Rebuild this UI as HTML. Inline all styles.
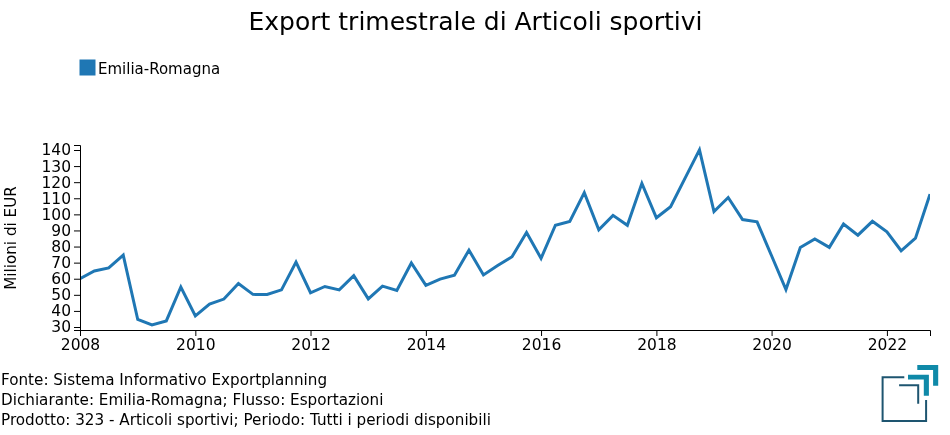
<!DOCTYPE html>
<html><head><meta charset="utf-8"><style>
html,body{margin:0;padding:0;background:#fff;}
svg{display:block;will-change:transform;font-family:"DejaVu Sans","Liberation Sans",sans-serif;}
.ax line,.ax path{stroke:#000;fill:none;stroke-width:1;shape-rendering:auto}
.ax text{font-size:15.5px;fill:#000}
</style></head><body>
<svg width="950" height="435" viewBox="0 0 950 435">
<text x="475.5" y="30" text-anchor="middle" font-size="25" fill="#000">Export trimestrale di Articoli sportivi</text>
<rect x="80" y="60" width="15" height="15" fill="#1f77b4" stroke="#1f77b4" stroke-width="1"/>
<text x="98" y="74" font-size="15" fill="#000">Emilia-Romagna</text>
<defs><clipPath id="c"><rect x="80" y="145" width="850" height="185"/></clipPath></defs>
<path d="M80.00,278.60L94.36,271.04L108.72,267.98L123.23,255.11L137.75,319.47L151.95,324.94L166.31,320.92L180.83,286.97L195.34,315.93L209.54,304.19L223.90,299.04L238.42,283.59L252.93,294.37L267.14,294.53L281.49,289.86L296.01,262.03L310.53,292.76L324.89,286.49L339.24,289.86L353.76,275.70L368.28,298.88L382.48,286.16L396.84,290.35L411.35,262.99L425.87,285.36L440.07,279.08L454.43,275.22L468.95,250.12L483.46,274.90L497.66,265.57L512.02,256.72L526.54,232.58L541.05,258.33L555.41,225.18L569.77,221.48L584.29,192.68L598.80,229.85L613.01,215.36L627.36,225.34L641.88,183.34L656.40,217.78L670.60,206.67L684.96,178.35L699.47,149.87L713.99,211.50L728.19,197.50L742.55,219.55L757.07,221.80L771.58,255.75L785.94,289.54L800.30,247.55L814.82,239.02L829.33,247.38L843.53,224.05L857.89,235.16L872.41,221.32L886.92,231.78L901.12,250.76L915.48,238.21L930.00,194.12" fill="none" stroke="#1f77b4" stroke-width="3" clip-path="url(#c)"/>
<g class="ax" transform="translate(80,0)" text-anchor="end">
<path d="M-6,145.5H0.5V330.5H-6"/>
<g transform="translate(0,327.00)"><line x1="-6" x2="0" y1="0.5" y2="0.5"/><text x="-9" y="0.5" dy="0.32em">30</text></g><g transform="translate(0,310.91)"><line x1="-6" x2="0" y1="0.5" y2="0.5"/><text x="-9" y="0.5" dy="0.32em">40</text></g><g transform="translate(0,294.82)"><line x1="-6" x2="0" y1="0.5" y2="0.5"/><text x="-9" y="0.5" dy="0.32em">50</text></g><g transform="translate(0,278.73)"><line x1="-6" x2="0" y1="0.5" y2="0.5"/><text x="-9" y="0.5" dy="0.32em">60</text></g><g transform="translate(0,262.64)"><line x1="-6" x2="0" y1="0.5" y2="0.5"/><text x="-9" y="0.5" dy="0.32em">70</text></g><g transform="translate(0,246.55)"><line x1="-6" x2="0" y1="0.5" y2="0.5"/><text x="-9" y="0.5" dy="0.32em">80</text></g><g transform="translate(0,230.45)"><line x1="-6" x2="0" y1="0.5" y2="0.5"/><text x="-9" y="0.5" dy="0.32em">90</text></g><g transform="translate(0,214.36)"><line x1="-6" x2="0" y1="0.5" y2="0.5"/><text x="-9" y="0.5" dy="0.32em">100</text></g><g transform="translate(0,198.27)"><line x1="-6" x2="0" y1="0.5" y2="0.5"/><text x="-9" y="0.5" dy="0.32em">110</text></g><g transform="translate(0,182.18)"><line x1="-6" x2="0" y1="0.5" y2="0.5"/><text x="-9" y="0.5" dy="0.32em">120</text></g><g transform="translate(0,166.09)"><line x1="-6" x2="0" y1="0.5" y2="0.5"/><text x="-9" y="0.5" dy="0.32em">130</text></g><g transform="translate(0,150.00)"><line x1="-6" x2="0" y1="0.5" y2="0.5"/><text x="-9" y="0.5" dy="0.32em">140</text></g>
</g>
<g class="ax" transform="translate(80,330)" text-anchor="middle">
<path d="M0.5,6V0.5H850.5V6"/>
<g transform="translate(0.00,0)"><line x1="0.5" x2="0.5" y1="0" y2="6"/><text x="0.5" y="9" dy="0.71em">2008</text></g><g transform="translate(115.34,0)"><line x1="0.5" x2="0.5" y1="0" y2="6"/><text x="0.5" y="9" dy="0.71em">2010</text></g><g transform="translate(230.53,0)"><line x1="0.5" x2="0.5" y1="0" y2="6"/><text x="0.5" y="9" dy="0.71em">2012</text></g><g transform="translate(345.87,0)"><line x1="0.5" x2="0.5" y1="0" y2="6"/><text x="0.5" y="9" dy="0.71em">2014</text></g><g transform="translate(461.05,0)"><line x1="0.5" x2="0.5" y1="0" y2="6"/><text x="0.5" y="9" dy="0.71em">2016</text></g><g transform="translate(576.40,0)"><line x1="0.5" x2="0.5" y1="0" y2="6"/><text x="0.5" y="9" dy="0.71em">2018</text></g><g transform="translate(691.58,0)"><line x1="0.5" x2="0.5" y1="0" y2="6"/><text x="0.5" y="9" dy="0.71em">2020</text></g><g transform="translate(806.92,0)"><line x1="0.5" x2="0.5" y1="0" y2="6"/><text x="0.5" y="9" dy="0.71em">2022</text></g>
</g>
<text transform="translate(16,238) rotate(-90)" text-anchor="middle" font-size="15.2" fill="#000">Milioni di EUR</text>
<g font-size="15.2" fill="#000">
<text x="1" y="385">Fonte: Sistema Informativo Exportplanning</text>
<text x="1" y="405">Dichiarante: Emilia-Romagna; Flusso: Esportazioni</text>
<text x="1" y="425">Prodotto: 323 - Articoli sportivi; Periodo: Tutti i periodi disponibili</text>
</g>
<g fill="none" stroke="#1e5570" stroke-width="2">
<path d="M904.3,377.2H882.6V420.9H926.1V400"/>
<path d="M899.1,385.3H918.2V403.8"/>
</g>
<g fill="#0f89a8">
<path d="M908,374.8H928.9V395.7H923.8V379.6H908Z"/>
<path d="M917.3,365.1H938.2V385.7H933.1V370H917.3Z"/>
</g>
</svg>
</body></html>
